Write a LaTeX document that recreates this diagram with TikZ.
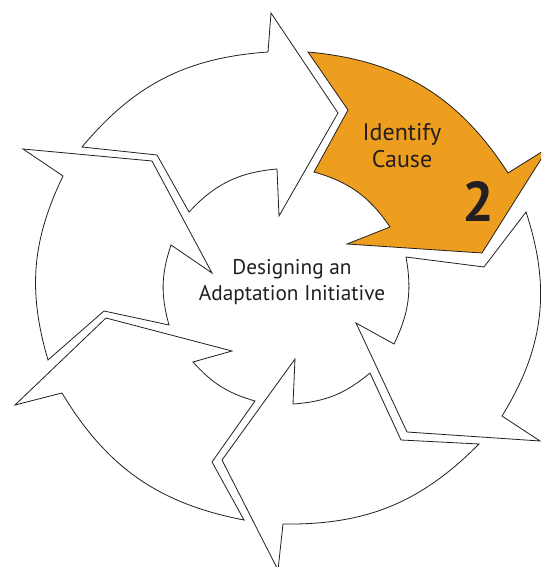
\documentclass[tikz,border=0pt]{standalone}
\usepackage{fontspec}
\setmainfont{PT Sans}
\definecolor{causeorange}{RGB}{238,158,30}
\definecolor{linegray}{RGB}{35,31,32}
\begin{document}
\begin{tikzpicture}[x=1pt,y=1pt,
    arrowpart/.style={draw=linegray,line width=0.8pt,fill=white},
    steplabel/.style={font=\fontsize{21.3}{26}\selectfont,text=linegray,align=center}]
    
\def\CAUSECOLOR{causeorange}
	\useasboundingbox (0,0) rectangle (541,567);
	\clip (0,0) rectangle (541,567);
	\draw[arrowpart] (82,420) to[bend left=23] (268,515) -- (271,554) -- (338,454) -- (279,351) -- (277,398) to[bend right=21] (189,355) -- (157,412) -- cycle;
	\draw[arrowpart,fill=\CAUSECOLOR] (308,515) to[bend left=26] (508,394) -- (548,419) -- (482,314) -- (347,323) -- (390,340) to[bend right=20] (314,395) -- (348,457) -- cycle;
	\draw[arrowpart] (526,355) to[bend left=25] (502,151) -- (540,126) -- (407,135) -- (356,244) -- (394,223) to[bend right=18] (406,310) -- (484,300) -- cycle;
	\draw[arrowpart] (479,123) to[bend left=23] (283,43) -- (278,-3) -- (222,107) -- (295,208) -- (293,163) to[bend right=18] (370,194) -- (401,127) -- cycle;
	\draw[arrowpart] (244,47) to[bend left=24] (62,174) -- (15,162) -- (106,249) -- (232,216) -- (193,205) to[bend right=16] (255,166) -- (212,105) -- cycle;
	\draw[arrowpart] (48,207) to[bend left=21] (63,391) -- (23,418) -- (152,406) -- (212,294) -- (171,322) to[bend right=17] (169,242) -- (104,256) -- cycle;

	\node[steplabel] (hub) at (292,284.5) {Designing an\\Adaptation Initiative};
	\node[steplabel,font=\fontsize{24}{27}\selectfont] (cause) at (402,421) {Identify\\Cause};
	\node[font=\fontsize{56}{56}\bfseries,text=linegray] (causenum) at (478,365) {2};

          \end{tikzpicture}
\end{document}
